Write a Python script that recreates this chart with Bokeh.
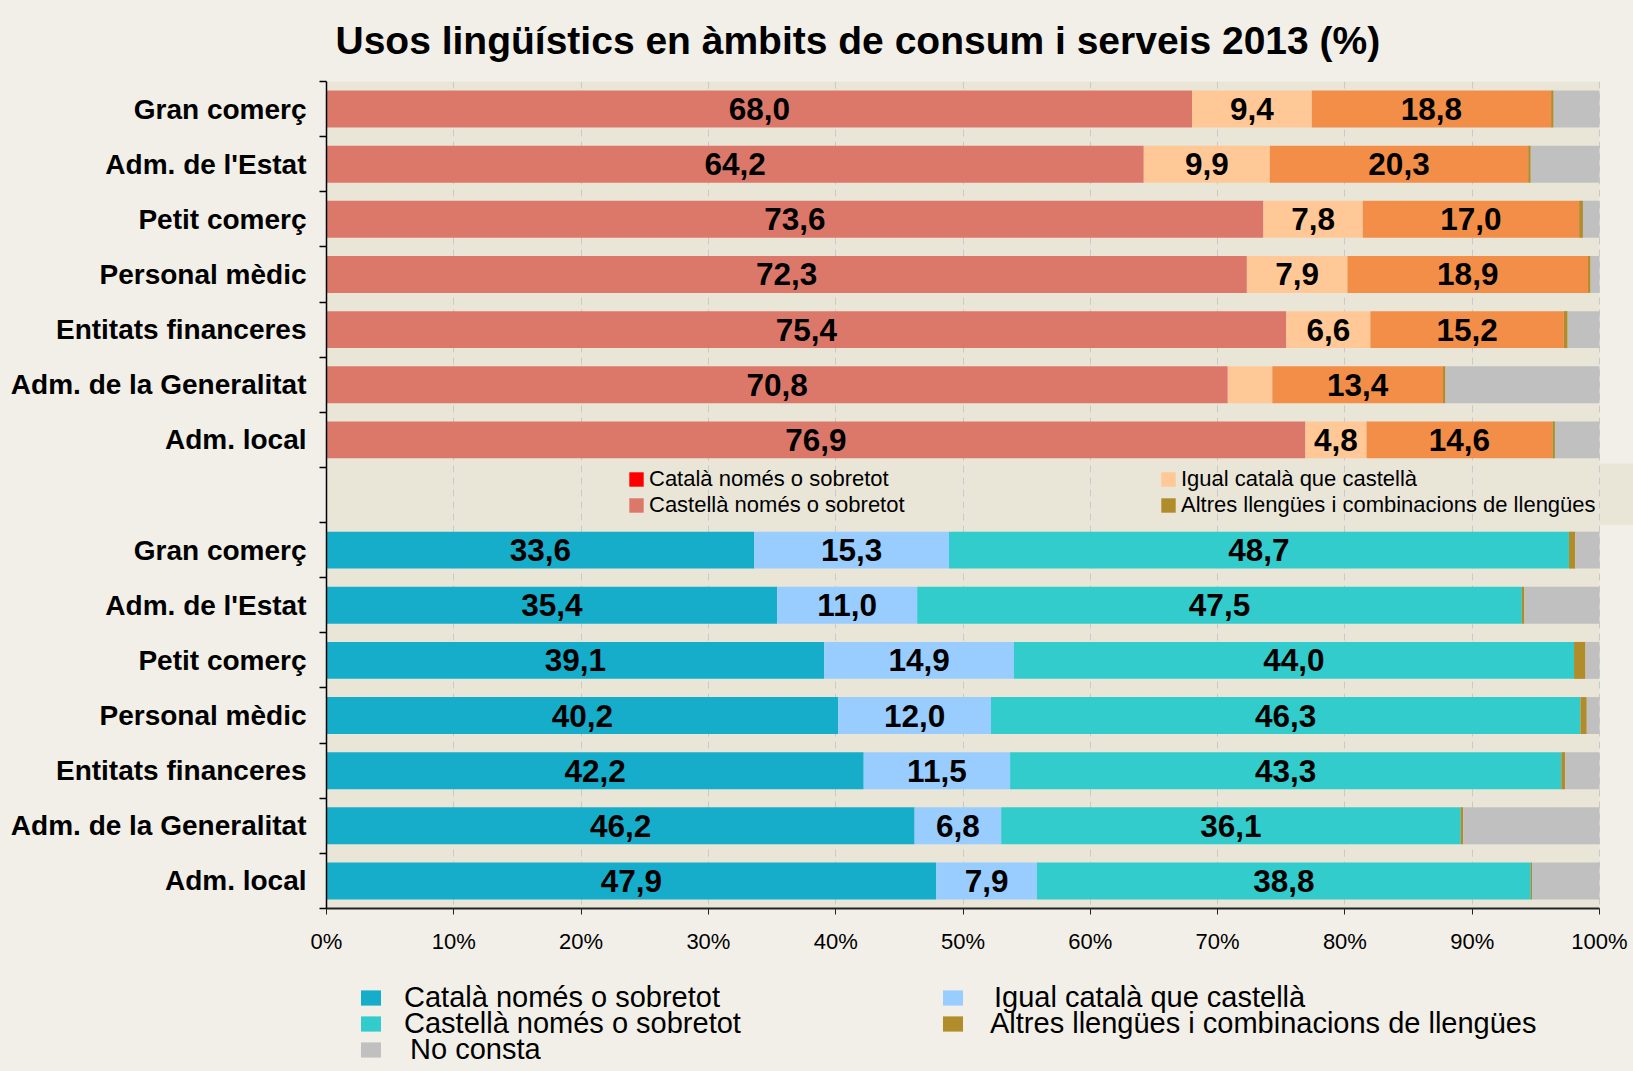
from bokeh.plotting import figure
from bokeh.models import Range1d, FixedTicker, Legend, LegendItem, ColumnDataSource
from bokeh.layouts import column
from bokeh.core.properties import value
from bokeh.embed import file_html
from bokeh.resources import INLINE

# ---------------- data ----------------
categories = ["Gran comerç", "Adm. de l'Estat", "Petit comerç", "Personal mèdic",
              "Entitats financeres", "Adm. de la Generalitat", "Adm. local"]

# upper block (segment order as drawn)
top_castella = [68.0, 64.2, 73.6, 72.3, 75.4, 70.8, 76.9]
top_igual = [9.4, 9.9, 7.8, 7.9, 6.6, 3.5, 4.8]
top_catala = [18.8, 20.3, 17.0, 18.9, 15.2, 13.4, 14.6]
top_altres = [0.2, 0.2, 0.3, 0.2, 0.3, 0.2, 0.2]
top_no_consta = [3.6, 5.4, 1.3, 0.7, 2.5, 12.1, 3.5]

# lower block
bot_catala = [33.6, 35.4, 39.1, 40.2, 42.2, 46.2, 47.9]
bot_igual = [15.3, 11.0, 14.9, 12.0, 11.5, 6.8, 7.9]
bot_castella = [48.7, 47.5, 44.0, 46.3, 43.3, 36.1, 38.8]
bot_altres = [0.5, 0.2, 0.9, 0.5, 0.3, 0.2, 0.1]
bot_no_consta = [1.9, 5.9, 1.1, 1.0, 2.7, 10.7, 5.3]

x_ticks = [0, 10, 20, 30, 40, 50, 60, 70, 80, 90, 100]

legend_mid_left = ["Català només o sobretot", "Castellà només o sobretot"]
legend_mid_right = ["Igual català que castellà", "Altres llengües i combinacions de llengües"]
legend_bot_left = ["Català només o sobretot", "Castellà només o sobretot", "No consta"]
legend_bot_right = ["Igual català que castellà", "Altres llengües i combinacions de llengües"]

# ---------------- style ----------------
OUTER = "#F1EFE7"
PLOTBG = "#E9E6D8"
C_SALMON = "#DC786A"
C_PEACH = "#FFC896"
C_ORANGE = "#F28E48"
C_BROWN = "#B08C2A"
C_GREY = "#C0C0C0"
C_BLUE = "#16ADCB"
C_LBLUE = "#99CCFF"
C_TEAL = "#33CCCC"
C_RED = "#FF0000"
FONT = "Liberation Sans"

W = 1633
H1, H2 = 972, 99
LEFT, TOP = 326, 81
FRAME_BOTTOM = 908
frame_w = W - LEFT
x_end = 100.0 * frame_w / 1273.0

p = figure(width=W, height=H1, output_backend="svg", toolbar_location=None,
           x_range=Range1d(0, x_end), y_range=Range1d(14.5, -0.5),
           min_border_left=LEFT, min_border_right=0, min_border_top=TOP,
           min_border_bottom=H1 - FRAME_BOTTOM, background_fill_color=OUTER,
           border_fill_color=OUTER, outline_line_color=None)

p.title.text = "Usos lingüístics en àmbits de consum i serveis 2013 (%)"
p.title.text_font = FONT
p.title.text_font_size = "39px"
p.title.text_font_style = "bold"
p.title.text_color = "black"
p.title.align = "left"
p.title.offset = 9
p.title.vertical_align = "top"
p.title.standoff = 36

# plot-area background and legend band
p.quad(left=[0], right=[100], bottom=[14.5], top=[-0.5], color=PLOTBG,
       line_color=None, level="image")
p.quad(left=[100], right=[x_end], bottom=[7.54], top=[6.43], color=PLOTBG,
       line_color=None, level="image")

BAR_H = 0.67


def stack(rows, series, colors, label_idx):
    lefts = [0.0] * len(rows)
    tx, ty, tt = [], [], []
    for k, (vals, col) in enumerate(zip(series, colors)):
        rights = [l + v for l, v in zip(lefts, vals)]
        p.hbar(y=rows, left=lefts, right=rights, height=BAR_H, color=col, line_color=None)
        if k in label_idx:
            for r, l, rr, v in zip(rows, lefts, rights, vals):
                if v >= 4:
                    tx.append((l + rr) / 2)
                    ty.append(r)
                    tt.append(f"{v:.1f}".replace(".", ","))
        lefts = rights
    return tx, ty, tt


top_rows = list(range(0, 7))
bot_rows = list(range(8, 15))

t1 = stack(top_rows, [top_castella, top_igual, top_catala, top_altres, top_no_consta],
           [C_SALMON, C_PEACH, C_ORANGE, C_BROWN, C_GREY], {0, 1, 2})
t2 = stack(bot_rows, [bot_catala, bot_igual, bot_castella, bot_altres, bot_no_consta],
           [C_BLUE, C_LBLUE, C_TEAL, C_BROWN, C_GREY], {0, 1, 2})

src = ColumnDataSource(dict(x=t1[0] + t2[0], y=t1[1] + t2[1], t=t1[2] + t2[2]))
p.text(x="x", y="y", text="t", source=src, text_font=value(FONT), text_font_style="bold",
       text_font_size="31.5px", text_align="center", text_baseline="middle", text_color="black")

# grid
p.ygrid.visible = False
p.xgrid.ticker = FixedTicker(ticks=x_ticks)
p.xgrid.grid_line_color = "#C9C9C9"
p.xgrid.grid_line_dash = "7 5"
p.xgrid.grid_line_width = 1

# x axis
xa = p.xaxis[0]
xa.ticker = FixedTicker(ticks=x_ticks)
xa.major_label_overrides = {t: f"{t}%" for t in x_ticks}
xa.bounds = (0, 100)
xa.axis_line_width = 2
xa.axis_line_color = "#222222"
xa.major_tick_line_color = "#222222"
xa.major_tick_out = 6
xa.major_tick_in = 0
xa.minor_tick_out = 0
xa.minor_tick_in = 0
xa.major_label_text_font = FONT
xa.major_label_text_font_size = "22px"
xa.major_label_text_color = "black"
xa.major_label_standoff = 14

# y axis
ya = p.yaxis[0]
label_rows = top_rows + bot_rows
labels = categories + categories
ya.ticker = FixedTicker(ticks=label_rows, minor_ticks=[i - 0.5 for i in range(16)])
ya.major_label_overrides = {r: lab for r, lab in zip(label_rows, labels)}
ya.axis_line_color = "black"
ya.axis_line_width = 1.5
ya.major_tick_out = 0
ya.major_tick_in = 0
ya.minor_tick_out = 7
ya.minor_tick_in = 0
ya.minor_tick_line_color = "black"
ya.minor_tick_line_width = 1.5
ya.major_label_text_font = FONT
ya.major_label_text_font_style = "bold"
ya.major_label_text_font_size = "28px"
ya.major_label_text_color = "black"
ya.major_label_standoff = 13


def make_legend(fig, labels_, colors, loc, gw, gh, lh, spacing, standoff, fsize):
    items = []
    for l, c in zip(labels_, colors):
        r = fig.hbar(y=[-1000], left=[0], right=[0], height=0.5, color=c, line_color=None)
        items.append(LegendItem(label=l, renderers=[r]))
    lg = Legend(items=items, location=loc, orientation="vertical",
                background_fill_alpha=0, border_line_alpha=0, padding=0, margin=0,
                glyph_width=gw, glyph_height=gh, label_height=lh, spacing=spacing,
                label_standoff=standoff, label_text_font=FONT,
                label_text_font_size=fsize, label_text_color="black")
    fig.add_layout(lg)
    return lg


make_legend(p, legend_mid_left, [C_RED, C_SALMON], (301, 390), 18, 18, 25, 0, 4, "22px")
make_legend(p, legend_mid_right, [C_PEACH, C_BROWN], (833, 390), 18, 18, 25, 0, 4, "22px")

# bottom legend figure (frame aligned with the main plot frame)
p2 = figure(width=W, height=H2, output_backend="svg", toolbar_location=None,
            x_range=Range1d(0, 1), y_range=Range1d(0, 1),
            x_axis_type=None, y_axis_type=None,
            min_border_left=LEFT, min_border_right=0, min_border_top=0, min_border_bottom=0,
            background_fill_color=OUTER, border_fill_color=OUTER, outline_line_color=None)
p2.grid.visible = False

bot_left_y = [56, 30, 4]
bot_left_gap = [21, 21, 27]
bot_right_y = [56, 30]
bot_right_gap = [29, 25]
for lab, col, yy, g in zip(legend_bot_left, [C_BLUE, C_TEAL, C_GREY], bot_left_y, bot_left_gap):
    make_legend(p2, [lab], [col], (32, yy), 25, 19, 36, 0, g, "29px")
for lab, col, yy, g in zip(legend_bot_right, [C_LBLUE, C_BROWN], bot_right_y, bot_right_gap):
    make_legend(p2, [lab], [col], (614, yy), 25, 19, 36, 0, g, "29px")

layout = column(p, p2, spacing=0, styles={"background-color": OUTER})
open("out.html", "w").write(file_html(layout, INLINE))
